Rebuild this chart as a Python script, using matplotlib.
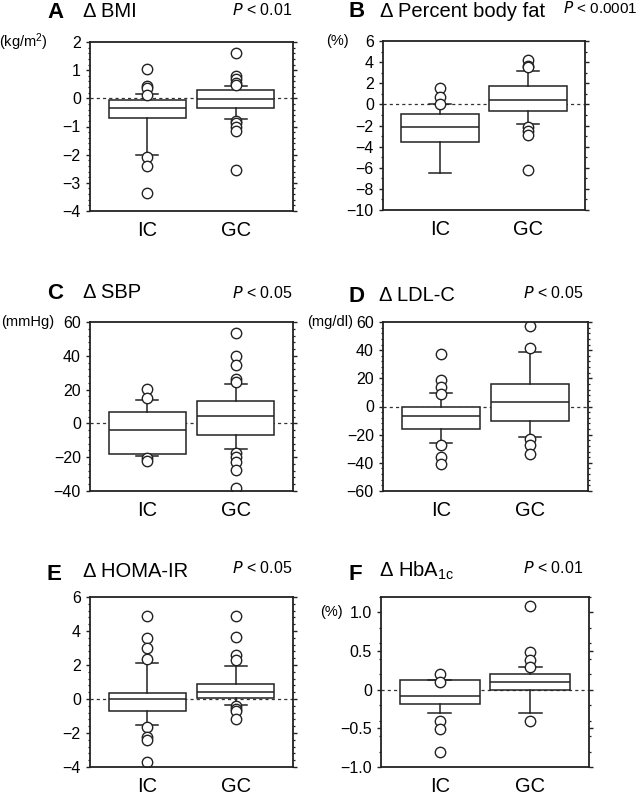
import matplotlib
matplotlib.use('Agg')
import matplotlib.pyplot as plt
from matplotlib.ticker import MultipleLocator, FuncFormatter

plt.rcParams['font.family'] = ['Liberation Sans', 'DejaVu Sans']

groups = ['IC', 'GC']

# each box: [whislo, q1, median, q3, whishi] for IC, GC
bmi_box = [[-2.02, -0.70, -0.35, -0.05, 0.16],
           [-0.72, -0.33, -0.03, 0.30, 0.44]]
bmi_out = [[1.05, 0.45, 0.38, 0.13, -2.07, -2.39, -3.35],
           [1.61, 0.80, 0.68, 0.55, 0.48, -0.79, -0.89, -1.03, -1.16, -2.55]]

fat_box = [[-6.5, -3.53, -2.1, -0.9, 0.0],
           [-1.88, -0.62, 0.46, 1.72, 3.15]]
fat_out = [[1.56, 0.68, 0.05],
           [4.2, 3.65, 3.5, -2.1, -2.5, -2.87, -6.26]]

sbp_box = [[-19.3, -18.1, -4.1, 6.5, 13.8],
           [-15.4, -7.1, 4.3, 13.2, 23.3]]
sbp_out = [[20.1, 14.8, -20.3, -22.1],
           [53.2, 39.6, 34.3, 26.4, 24.4, -17.4, -19.9, -22.9, -27.8, -38.1]]

ldl_box = [[-26.2, -16.1, -6.4, -0.5, 9.4],
           [-21.7, -10.2, 3.5, 15.8, 38.5]]
ldl_out = [[37.3, 18.9, 14.2, 9.0, -27.2, -35.9, -41.1],
           [57.2, 41.6, -23.2, -27.6, -33.5]]

homa_box = [[-1.55, -0.69, 0.0, 0.38, 2.1],
            [-0.36, 0.06, 0.44, 0.91, 1.96]]
homa_out = [[4.88, 3.61, 2.98, 2.38, -1.67, -2.22, -2.42, -3.69],
            [4.88, 3.65, 2.58, 2.28, -0.40, -0.60, -0.70, -1.15]]

hba_box = [[-0.30, -0.19, -0.08, 0.12, 0.12],
           [-0.30, 0.0, 0.10, 0.21, 0.30]]
hba_out = [[0.20, 0.095, -0.40, -0.51, -0.81],
           [1.09, 0.49, 0.39, 0.29, -0.40]]

letters = ['A', 'B', 'C', 'D', 'E', 'F']
titles = [r'Δ BMI', r'Δ Percent body fat', r'Δ SBP', r'Δ LDL-C',
          r'Δ HOMA-IR', r'Δ HbA$\mathregular{_{1c}}$']
p_texts = ['0.01', '0.0001', '0.05', '0.05', '0.05', '0.01']
units = [r'(kg/m$\mathregular{^2}$)', '(%)', '(mmHg)', '(mg/dl)', None, '(%)']
unit_at = [2, 6, 60, 60, None, 1.0]
y_limits = [(-4, 2), (-10, 6), (-40, 60), (-60, 60), (-4, 6), (-1.0, 1.2)]
y_major = [1, 2, 20, 20, 2, 0.5]
y_minor = [0.2, 1, 4, 4, 0.4, 0.2]

W, H = 640, 796
# axes boxes in pixels: left, top, right, bottom
rects = [(90, 42, 293, 211), (383, 41, 585, 210),
         (90, 322, 293, 491), (383, 322, 588, 491),
         (90, 597, 293, 767), (381, 597, 589, 767)]
# pixel offsets: (letter dx, dy), (title dx, dy), (p dx, dy), unit dx
offsets = [((-43, 24), (-7, 25), (142, 27), -42),
           ((-34, 24), (-3, 24), (180, 28), -34),
           ((-43, 23), (-7, 24), (142, 24), -36),
           ((-35, 20), (-4, 21), (140, 24), -30),
           ((-43, 17), (-7, 20), (142, 24), 0),
           ((-33, 17), (-2, 20), (142, 24), -38)]


def fmt_int(v, pos):
    if abs(v) < 1e-9:
        return '0'
    return f'{v:.0f}'.replace('-', '\u2212')


def fmt_dec(v, pos):
    if abs(v) < 1e-9:
        return '0'
    return f'{v:.1f}'.replace('-', '\u2212')


def draw_panel(fig, i, box, out):
    l, t, r, b = rects[i]
    ax = fig.add_axes([l / W, 1 - b / H, (r - l) / W, (b - t) / H])

    stats = []
    for g, vals, fl in zip(groups, box, out):
        stats.append(dict(label=g, whislo=vals[0], q1=vals[1], med=vals[2],
                          q3=vals[3], whishi=vals[4], fliers=fl))
    ax.axhline(0, color='#333333', lw=0.9, ls=(0, (2.5, 2.5)), zorder=1)
    ax.bxp(stats, positions=[1, 2], widths=0.88, capwidths=0.25,
           patch_artist=True,
           boxprops=dict(facecolor='white', edgecolor='#222222', lw=1.1),
           medianprops=dict(color='#222222', lw=1.1),
           whiskerprops=dict(color='#222222', lw=1.1),
           capprops=dict(color='#222222', lw=1.1),
           flierprops=dict(marker='o', markersize=7.5, markerfacecolor='white',
                           markeredgecolor='#222222', markeredgewidth=1.0),
           zorder=2)

    ax.set_xlim(0.35, 2.65)
    ax.set_ylim(*y_limits[i])
    ax.yaxis.set_major_locator(MultipleLocator(y_major[i]))
    ax.yaxis.set_minor_locator(MultipleLocator(y_minor[i]))
    ax.yaxis.set_major_formatter(FuncFormatter(fmt_dec if i == 5 else fmt_int))
    ax.tick_params(axis='y', which='both', direction='out', right=True,
                   color='#222222', labelsize=11.5, pad=4)
    ax.tick_params(axis='y', which='major', length=2.6, width=1.0)
    ax.tick_params(axis='y', which='minor', length=1.6, width=0.9)
    ax.tick_params(axis='x', length=0, labelsize=14.5, pad=7)
    for s in ax.spines.values():
        s.set_linewidth(1.3)
        s.set_color('#222222')

    (ldx, ldy), (tdx, tdy), (pdx, pdy), udx = offsets[i]
    ax.annotate(letters[i], xy=(0, 1), xycoords='axes fraction',
                xytext=(ldx, ldy), textcoords='offset pixels',
                fontsize=16, fontweight='bold', ha='left', va='baseline')
    ax.annotate(titles[i], xy=(0, 1), xycoords='axes fraction',
                xytext=(tdx, tdy), textcoords='offset pixels',
                fontsize=14.5, ha='left', va='baseline')
    ax.annotate(r'$\mathit{P}$ < ' + p_texts[i], xy=(0, 1),
                xycoords='axes fraction', xytext=(pdx, pdy),
                textcoords='offset pixels',
                fontsize=11 if i == 1 else 11.5,
                ha='left', va='baseline', annotation_clip=False)
    if units[i] is not None:
        ax.annotate(units[i], xy=(0, unit_at[i]),
                    xycoords=('axes fraction', 'data'),
                    xytext=(udx, 0), textcoords='offset pixels',
                    fontsize=10.5, ha='right', va='center')
    return ax


def main():
    fig = plt.figure(figsize=(W / 100, H / 100), dpi=100)
    panels = [(bmi_box, bmi_out), (fat_box, fat_out), (sbp_box, sbp_out),
              (ldl_box, ldl_out), (homa_box, homa_out), (hba_box, hba_out)]
    for i, (box, out) in enumerate(panels):
        draw_panel(fig, i, box, out)
    fig.savefig('out.png', dpi=100)


if __name__ == "__main__":
    main()
